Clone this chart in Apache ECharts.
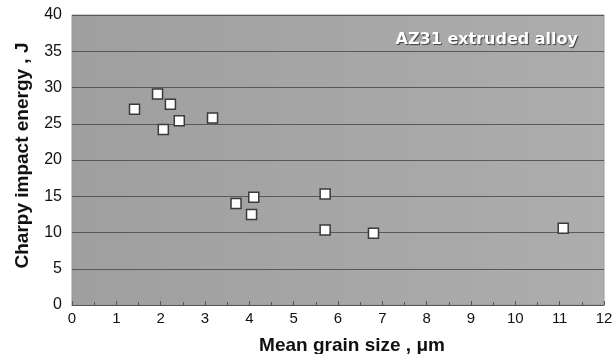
<!DOCTYPE html>
<html>
<head>
<meta charset="utf-8">
<script src="https://cdn.jsdelivr.net/npm/echarts@6/dist/echarts.min.js"></script>
<style>html,body{margin:0;padding:0;background:#fff}#c{width:614px;height:354px}</style>
</head>
<body>
<div id="c"></div>
<script>
const grainSize = [1.41, 1.93, 2.22, 2.06, 2.42, 3.17, 3.70, 4.10, 4.05, 5.71, 5.71, 6.80, 11.08];
const impactEnergy = [27.0, 29.1, 27.7, 24.2, 25.4, 25.8, 14.0, 14.85, 12.5, 15.3, 10.35, 9.9, 10.6];
const xTicks = [0, 1, 2, 3, 4, 5, 6, 7, 8, 9, 10, 11, 12];
const yTicks = [0, 5, 10, 15, 20, 25, 30, 35, 40];

const chart = echarts.init(document.getElementById('c'), null, {renderer: 'canvas'});
const font = 'Liberation Sans, Arial, sans-serif';
chart.setOption({
  animation: false,
  title: {
    text: 'AZ31 extruded alloy',
    right: 31, top: 27,
    textStyle: {
      color: '#ffffff', fontSize: 16, fontWeight: 'bold', fontFamily: 'DejaVu Sans, sans-serif',
      textShadowColor: 'rgba(50,50,50,0.9)', textShadowOffsetX: 1, textShadowOffsetY: 1, textShadowBlur: 1
    }
  },
  grid: {
    left: 72, right: 10, top: 15, bottom: 49,
    outerBoundsMode: 'none', containLabel: false,
    show: true,
    backgroundColor: new echarts.graphic.LinearGradient(0, 0, 1, 0, [
      {offset: 0, color: '#9f9f9f'}, {offset: 1, color: '#adadad'}
    ]),
    borderColor: '#9a9a9a', borderWidth: 1
  },
  xAxis: {
    type: 'value', min: xTicks[0], max: xTicks[xTicks.length - 1], interval: 1,
    name: 'Mean grain size , \u03bcm', nameLocation: 'middle', nameGap: 31,
    nameTextStyle: {fontSize: 19, fontWeight: 'bold', color: '#111', fontFamily: font, padding: [0, 0, 0, 28]},
    axisLine: {lineStyle: {color: '#555', width: 1}},
    axisTick: {show: true, inside: true, length: 4, lineStyle: {color: '#555'}},
    minorTick: {show: true, splitNumber: 2, length: 3, lineStyle: {color: '#555'}},
    axisLabel: {fontSize: 15, color: '#111', fontFamily: font, margin: 6},
    splitLine: {show: false}
  },
  yAxis: {
    type: 'value', min: yTicks[0], max: yTicks[yTicks.length - 1], interval: 5,
    name: 'Charpy impact energy , J', nameLocation: 'middle', nameGap: 40,
    nameTextStyle: {fontSize: 19, fontWeight: 'bold', color: '#111', fontFamily: font, padding: [0, 0, 0, 9]},
    axisLine: {show: false},
    axisTick: {show: false},
    axisLabel: {fontSize: 16, color: '#111', fontFamily: font, margin: 10},
    splitLine: {show: true, lineStyle: {color: '#585858', width: 1}}
  },
  series: [{
    type: 'scatter',
    data: grainSize.map((x, i) => [x, impactEnergy[i]]),
    symbol: 'rect', symbolSize: 10,
    itemStyle: {color: '#ffffff', borderColor: '#3a3a3a', borderWidth: 1.5, opacity: 1}
  }]
});
</script>
</body>
</html>
